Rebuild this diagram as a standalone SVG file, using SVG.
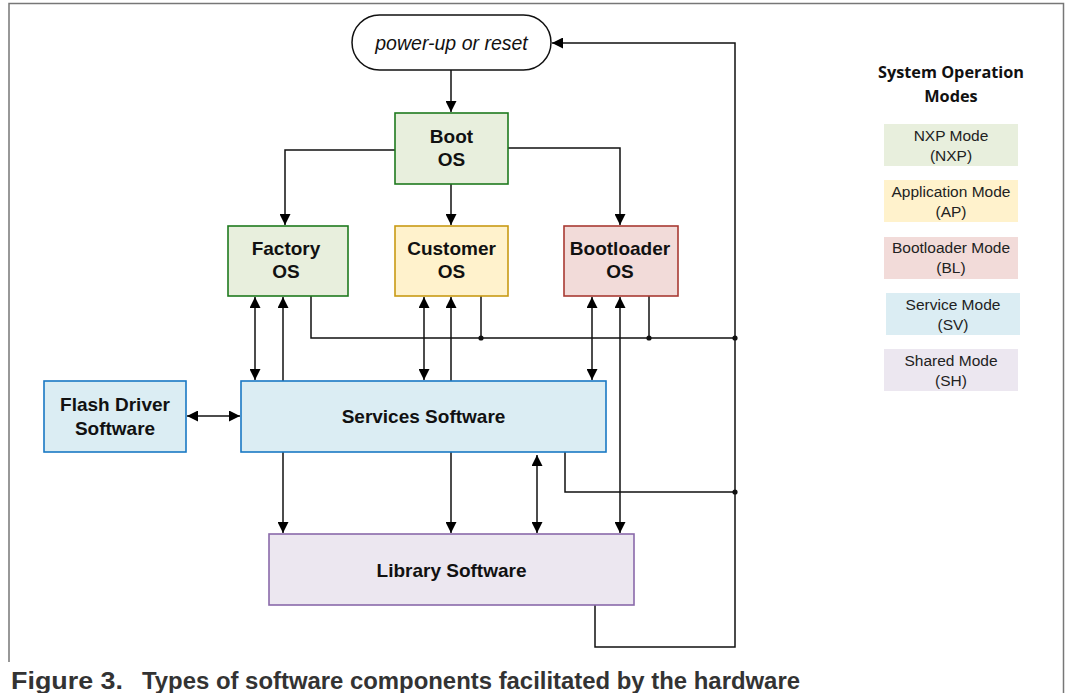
<svg xmlns="http://www.w3.org/2000/svg" width="1066" height="693" viewBox="0 0 1066 693">
<style>
.n{font-family:"Liberation Sans",Arial,sans-serif;font-weight:bold;font-size:19px;fill:#111;text-anchor:middle}
.l{font-family:"Liberation Sans",Arial,sans-serif;font-size:15.5px;fill:#222;text-anchor:middle}
.c{fill:none;stroke:#111;stroke-width:1.5}
.lg{stroke:none}
</style>
<defs>
<marker id="ah" viewBox="0 0 10 10" refX="10" refY="5" markerWidth="11" markerHeight="11" markerUnits="userSpaceOnUse" orient="auto-start-reverse">
<path d="M0,0 L10,5 L0,10 Z" fill="#000"/>
</marker>
</defs>
<rect width="1066" height="693" fill="#fff"/>
<path d="M9,662 V3.5 H1063.5 V693" fill="none" stroke="#777" stroke-width="1.5"/>

<g id="connectors">
<path class="c" d="M451,70 V112" marker-end="url(#ah)"/>
<path class="c" d="M395,150 H285 V225" marker-end="url(#ah)"/>
<path class="c" d="M508,148 H620 V225" marker-end="url(#ah)"/>
<path class="c" d="M451,184 V225" marker-end="url(#ah)"/>
<path class="c" d="M255,297 V380" marker-start="url(#ah)" marker-end="url(#ah)"/>
<path class="c" d="M283,381 V297" marker-end="url(#ah)"/>
<path class="c" d="M424,297 V380" marker-start="url(#ah)" marker-end="url(#ah)"/>
<path class="c" d="M451,381 V297" marker-end="url(#ah)"/>
<path class="c" d="M592,297 V380" marker-start="url(#ah)" marker-end="url(#ah)"/>
<path class="c" d="M620,297 V533" marker-start="url(#ah)" marker-end="url(#ah)"/>
<path class="c" d="M311,296 V338 H735"/>
<path class="c" d="M481,296 V338"/>
<path class="c" d="M649,296 V338"/>
<path class="c" d="M187,416 H240" marker-start="url(#ah)" marker-end="url(#ah)"/>
<path class="c" d="M283,452 V533" marker-end="url(#ah)"/>
<path class="c" d="M451,452 V533" marker-end="url(#ah)"/>
<path class="c" d="M537,455 V533" marker-start="url(#ah)" marker-end="url(#ah)"/>
<path class="c" d="M565,452 V492 H735"/>
<path class="c" d="M595,605 V647 H735 V43 H552" marker-end="url(#ah)"/>
<circle cx="481" cy="338" r="2.6" fill="#111"/>
<circle cx="649" cy="338" r="2.6" fill="#111"/>
<circle cx="735" cy="338" r="2.6" fill="#111"/>
<circle cx="735" cy="492" r="2.6" fill="#111"/>
</g>

<g id="power">
<rect x="352" y="15" width="199" height="55" rx="27.5" fill="#fff" stroke="#111" stroke-width="1.5"/>
<text x="451.5" y="49.5" font-family="Liberation Sans,Arial,sans-serif" font-style="italic" font-size="19.5" fill="#111" text-anchor="middle">power-up or reset</text>
</g>
<g id="boot">
<rect x="395" y="113" width="113" height="71" fill="#e8efdd" stroke="#1e7a1e" stroke-width="1.6"/>
<text class="n" x="451.5" y="143">Boot</text>
<text class="n" x="451.5" y="166">OS</text>
</g>
<g id="factory">
<rect x="228" y="226" width="120" height="70" fill="#e8efdd" stroke="#1e7a1e" stroke-width="1.6"/>
<text class="n" x="286" y="255">Factory</text>
<text class="n" x="286" y="278">OS</text>
</g>
<g id="customer">
<rect x="395" y="226" width="113" height="70" fill="#fff2cc" stroke="#c99a14" stroke-width="1.6"/>
<text class="n" x="451.5" y="255">Customer</text>
<text class="n" x="451.5" y="278">OS</text>
</g>
<g id="bootloader">
<rect x="564" y="226" width="114" height="70" fill="#f2dbd9" stroke="#a83a32" stroke-width="1.6"/>
<text class="n" x="620" y="255">Bootloader</text>
<text class="n" x="620" y="278">OS</text>
</g>
<g id="flash">
<rect x="44" y="381" width="142" height="71" fill="#dbedf3" stroke="#1a78c4" stroke-width="1.6"/>
<text class="n" x="115" y="411">Flash Driver</text>
<text class="n" x="115" y="435">Software</text>
</g>
<g id="services">
<rect x="241" y="381" width="365" height="71" fill="#dbedf3" stroke="#1a78c4" stroke-width="1.6"/>
<text class="n" x="423.5" y="423">Services Software</text>
</g>
<g id="library">
<rect x="269" y="534" width="365" height="71" fill="#ece7f0" stroke="#8a6aaa" stroke-width="1.6"/>
<text class="n" x="451.5" y="577">Library Software</text>
</g>

<g id="legend">
<text x="951" y="78" font-family="Open Sans,sans-serif" font-weight="bold" font-size="16.3" fill="#111" text-anchor="middle">System Operation</text>
<text x="951" y="102" font-family="Open Sans,sans-serif" font-weight="bold" font-size="16.3" fill="#111" text-anchor="middle">Modes</text>
<rect class="lg" x="884" y="124" width="134" height="42" fill="#e8efdd"/>
<text class="l" x="951" y="141">NXP Mode</text>
<text class="l" x="951" y="161">(NXP)</text>
<rect class="lg" x="884" y="180" width="134" height="42" fill="#fff2cc"/>
<text class="l" x="951" y="197">Application Mode</text>
<text class="l" x="951" y="217">(AP)</text>
<rect class="lg" x="884" y="237" width="134" height="42" fill="#f2dbd9"/>
<text class="l" x="951" y="253">Bootloader Mode</text>
<text class="l" x="951" y="273">(BL)</text>
<rect class="lg" x="886" y="293" width="134" height="42" fill="#dbedf3"/>
<text class="l" x="953" y="310">Service Mode</text>
<text class="l" x="953" y="330">(SV)</text>
<rect class="lg" x="884" y="349" width="134" height="42" fill="#ece7f0"/>
<text class="l" x="951" y="366">Shared Mode</text>
<text class="l" x="951" y="386">(SH)</text>
</g>

<g id="caption" font-family="Liberation Sans,Arial,sans-serif" font-weight="bold" font-size="23" fill="#333">
<text x="11" y="689" textLength="112" lengthAdjust="spacingAndGlyphs">Figure 3.</text>
<text x="142" y="689" textLength="658" lengthAdjust="spacingAndGlyphs">Types of software components facilitated by the hardware</text>
</g>
</svg>
